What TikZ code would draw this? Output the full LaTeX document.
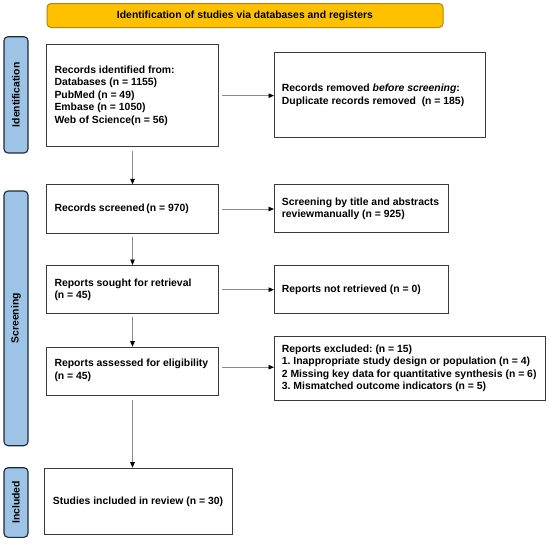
\documentclass[tikz,border=0pt]{standalone}
\usepackage{fontspec}
\setmainfont{Liberation Sans}
\usetikzlibrary{arrows.meta}
\definecolor{boxc}{HTML}{3A3A3A}
\definecolor{bannerfill}{HTML}{FFC000}
\definecolor{bannerdraw}{HTML}{B8860B}
\definecolor{sidefill}{HTML}{9DC3E6}
\definecolor{sidedraw}{HTML}{1F2A36}
\definecolor{linec}{HTML}{8A8A8A}
\frenchspacing
\begin{document}
\begin{tikzpicture}[x=1pt,y=-1pt,
  font=\fontsize{10.4}{12.5}\selectfont\bfseries,
  flowbox/.style={draw=boxc, line width=1pt, inner sep=0pt, anchor=north west, fill=white},
  boxtext/.style={anchor=west, align=left, inner sep=0pt},
  sidebar/.style={draw=sidedraw, line width=1.1pt, fill=sidefill, rounded corners=4pt},
  sidelabel/.style={rotate=90, text=black},
  conn/.style={draw=linec, line width=0.8pt, -{Triangle[length=5.5pt,width=4.5pt,color=black]}}
]
\useasboundingbox (0,0) rectangle (550,544);

% banner
\draw[draw=bannerdraw, fill=bannerfill, line width=1pt, rounded corners=4pt] (47,3.5) rectangle (443,27.5);
\node (banner) at (245,15.5) {Identification of studies via databases and registers};

% sidebars
\draw[sidebar] (4,36.7) rectangle (28,153);
\node[sidelabel] (lid) at (16,94.85) {Identification};
\draw[sidebar] (4,191) rectangle (28,445.7);
\node[sidelabel] (lscr) at (16,318.35) {Screening};
\draw[sidebar] (4,467.7) rectangle (28,537.3);
\node[sidelabel] (linc) at (16,502.5) {Included};

% boxes
\node[flowbox, minimum width=172.6pt, minimum height=101.7pt] (b1) at (45.7,44.3) {};
\node[boxtext] (t1) at ([xshift=8.6pt]b1.west)
  {Records identified from:\\Databases (n = 1155)\\PubMed (n = 49)\\Embase (n = 1050)\\Web of Science(n = 56)};
\node[flowbox, minimum width=211.3pt, minimum height=84.7pt] (rem) at (274,52.3) {};
\node[boxtext] (trem) at ([xshift=7.7pt]rem.west)
  {Records removed \textit{before screening}:\\Duplicate records removed~~(n = 185)};
\node[flowbox, minimum width=172.6pt, minimum height=48.4pt] (b2) at (45.7,184.3) {};
\node[boxtext] (t2) at ([xshift=8.6pt]b2.west) {Records screened\,(n = 970)};
\node[flowbox, minimum width=174.3pt, minimum height=48.3pt] (scr) at (274,184) {};
\node[boxtext] (tscr) at ([xshift=7.7pt]scr.west)
  {Screening by title and abstracts\\reviewmanually (n = 925)};
\node[flowbox, minimum width=172.6pt, minimum height=48.3pt] (b3) at (45.7,265) {};
\node[boxtext] (t3) at ([xshift=8.6pt]b3.west) {Reports sought for retrieval\\(n = 45)};
\node[flowbox, minimum width=174.3pt, minimum height=48.8pt] (nr) at (274,264.5) {};
\node[boxtext] (tnr) at ([xshift=7.7pt]nr.west) {Reports not retrieved (n = 0)};
\node[flowbox, minimum width=172.6pt, minimum height=48pt] (b4) at (45.7,346.7) {};
\node[boxtext] (t4) at ([xshift=8.6pt,yshift=1pt]b4.west) {Reports assessed for eligibility\\(n = 45)};
\node[flowbox, minimum width=271.3pt, minimum height=64pt] (exc) at (274,336) {};
\node[boxtext] (texc) at ([xshift=7.7pt]exc.west)
  {Reports excluded: (n = 15)\\1. Inappropriate study design or population (n = 4)\\2 Missing key data for quantitative synthesis (n = 6)\\3. Mismatched outcome indicators (n = 5)};
\node[flowbox, minimum width=187.4pt, minimum height=66.3pt] (b5) at (44.3,467.7) {};
\node[boxtext] (t5) at ([xshift=8.4pt]b5.west) {Studies included in review (n = 30)};

% connectors
\draw[conn, shorten <=4pt] (b1.south) -- (b2.north);
\draw[conn, shorten <=3pt] (b2.south) -- (b3.north);
\draw[conn, shorten <=3pt] (b3.south) -- (b4.north);
\draw[conn, shorten <=4pt] (b4.south) -- (b4.south |- b5.north);
\draw[conn, shorten <=3pt] (b1.east) -- (b1.east -| rem.west);
\draw[conn, shorten <=3pt] (b2.east) -- (b2.east -| scr.west);
\draw[conn, shorten <=3pt] (b3.east) -- (b3.east -| nr.west);
\draw[conn, shorten <=3pt] ([yshift=4pt]b4.east) -- ([yshift=4pt]b4.east -| exc.west);
\end{tikzpicture}
\end{document}
